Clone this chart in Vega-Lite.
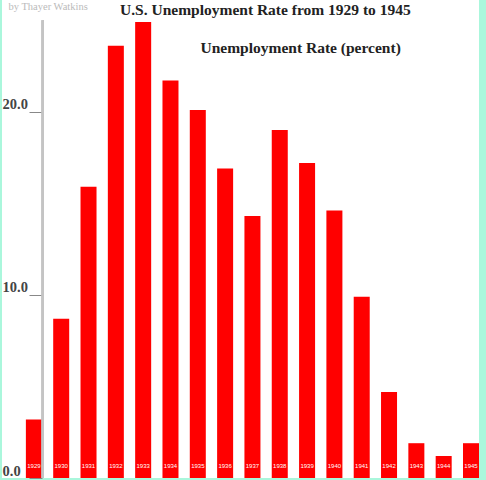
{
  "$schema": "https://vega.github.io/schema/vega-lite/v6.json",
  "autosize": "none",
  "width": 477,
  "height": 478,
  "padding": {"left": 2, "top": 0, "right": 7, "bottom": 2},
  "background": "#aaf7dc",
  "view": {"fill": "white", "stroke": null},
  "title": {
    "text": "U.S. Unemployment Rate from 1929 to 1945",
    "anchor": "start",
    "frame": "group",
    "dx": 118,
    "offset": -30,
    "baseline": "alphabetic",
    "font": "Liberation Serif",
    "fontSize": 15.5,
    "fontWeight": "bold",
    "color": "#222222"
  },
  "data": {
    "values": [
      {"year": 1929, "rate": 3.2},
      {"year": 1930, "rate": 8.7},
      {"year": 1931, "rate": 15.9},
      {"year": 1932, "rate": 23.6},
      {"year": 1933, "rate": 24.9},
      {"year": 1934, "rate": 21.7},
      {"year": 1935, "rate": 20.1},
      {"year": 1936, "rate": 16.9},
      {"year": 1937, "rate": 14.3},
      {"year": 1938, "rate": 19.0},
      {"year": 1939, "rate": 17.2},
      {"year": 1940, "rate": 14.6},
      {"year": 1941, "rate": 9.9},
      {"year": 1942, "rate": 4.7},
      {"year": 1943, "rate": 1.9},
      {"year": 1944, "rate": 1.2},
      {"year": 1945, "rate": 1.9}
    ]
  },
  "layer": [
    {
      "mark": {"type": "bar", "color": "#ff0000"},
      "encoding": {
        "x": {
          "field": "year",
          "type": "ordinal",
          "scale": {"paddingInner": 0.414, "paddingOuter": 0.437, "align": 1},
          "axis": {
            "orient": "bottom",
            "zindex": 1,
            "domain": false,
            "ticks": false,
            "tickSize": 0,
            "labelPadding": -13,
            "labelBaseline": "middle",
            "labelAngle": 0,
            "labelFont": "Liberation Sans",
            "labelFontSize": 6,
            "labelColor": "white",
            "labelOverlap": false,
            "labelFlush": false,
            "title": "Unemployment Rate (percent)",
            "titleAngle": 0,
            "titleX": 198,
            "titleY": -425.7,
            "titleAlign": "left",
            "titleBaseline": "alphabetic",
            "titleFont": "Liberation Serif",
            "titleFontSize": 15.5,
            "titleFontWeight": "bold",
            "titleColor": "#222222"
          }
        },
        "y": {
          "field": "rate",
          "type": "quantitative",
          "scale": {"domain": [0, 26.1], "nice": false},
          "axis": {
            "orient": "left",
            "offset": -40,
            "values": [0, 10, 20],
            "format": ".1f",
            "domain": false,
            "grid": false,
            "tickSize": 13,
            "tickColor": "#888888",
            "tickWidth": 1,
            "labelAlign": "left",
            "labelPadding": 27,
            "labelBaseline": "bottom",
            "labelFont": "Liberation Serif",
            "labelFontSize": 14.5,
            "labelFontWeight": "bold",
            "labelColor": "#444444",
            "title": "by Thayer Watkins",
            "titleAngle": 0,
            "titleX": -34,
            "titleY": 9,
            "titleAlign": "left",
            "titleBaseline": "alphabetic",
            "titleFont": "Liberation Serif",
            "titleFontSize": 10.5,
            "titleFontWeight": "normal",
            "titleColor": "#bbbbbb"
          }
        }
      }
    },
    {
      "mark": {"type": "rule", "color": "#c4c4c4", "strokeWidth": 2, "xOffset": 1},
      "encoding": {
        "x": {"datum": 1929, "type": "ordinal", "bandPosition": 1},
        "y": {"datum": 0},
        "y2": {"datum": 25}
      }
    }
  ]
}
